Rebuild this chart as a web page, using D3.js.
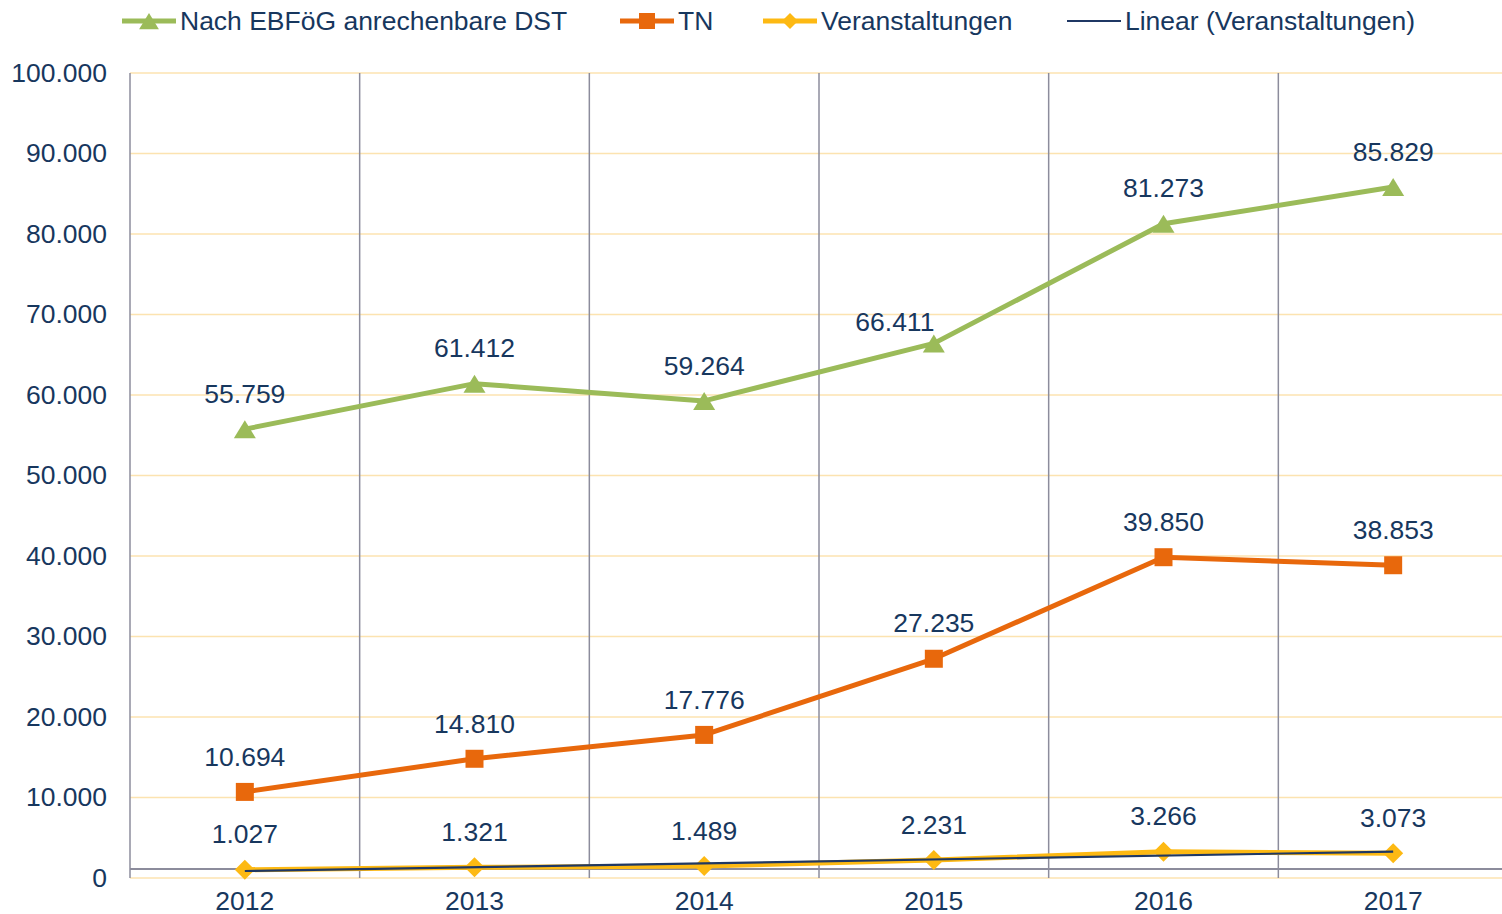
<!DOCTYPE html>
<html><head><meta charset="utf-8">
<script src="https://cdn.jsdelivr.net/npm/d3@7"></script>
<style>
html,body{margin:0;padding:0;background:#fff;}
svg{display:block;font-family:"Liberation Sans",Arial,sans-serif;}
</style></head>
<body>
<svg id="chart" width="1502" height="914"></svg>
<script>
const years = ["2012","2013","2014","2015","2016","2017"];
const dst = [55759, 61412, 59264, 66411, 81273, 85829];
const tn = [10694, 14810, 17776, 27235, 39850, 38853];
const veranst = [1027, 1321, 1489, 2231, 3266, 3073];
const yTicks = [0,10000,20000,30000,40000,50000,60000,70000,80000,90000,100000];
const legendLabels = ["Nach EBFöG anrechenbare DST","TN","Veranstaltungen","Linear (Veranstaltungen)"];

const navy = "#17375E";
const green = "#9BBB59", orange = "#E8680C", yellow = "#FDB913", trendColor = "#1F3864";
const fmt = v => d3.format(",")(v).replace(/,/g, ".");
const FS = 25, SX = 1.06;

const svg = d3.select("#chart");
const m = {left:130, right:-6, top:73, bottom:36};
const W = 1502, H = 914;
const x = d3.scaleBand().domain(years).range([m.left, W - m.right]).padding(0);
const y = d3.scaleLinear().domain([0,100000]).range([H - m.bottom, m.top]);
const cx = d => x(d) + x.bandwidth()/2;

function txt(g, px, py, s, anchor) {
  return g.append("text")
    .attr("transform", `translate(${px},${py}) scale(${SX},1)`)
    .attr("text-anchor", anchor).attr("dominant-baseline","central")
    .attr("fill", navy).attr("font-size", FS).text(s);
}

// horizontal gridlines
svg.append("g").selectAll("line").data(yTicks).join("line")
  .attr("x1", m.left).attr("x2", W).attr("y1", d=>y(d)).attr("y2", d=>y(d))
  .attr("stroke", "#FCE3B0").attr("stroke-width", 1.5);

// vertical category lines
svg.append("g").selectAll("line").data(years).join("line")
  .attr("x1", d=>x(d)).attr("x2", d=>x(d)).attr("y1", y(100000)).attr("y2", y(0))
  .attr("stroke", "#8C8C9C").attr("stroke-width", 1.5);

// horizontal axis line
svg.append("line").attr("x1", m.left).attr("x2", W)
  .attr("y1", y(0) - 9).attr("y2", y(0) - 9)
  .attr("stroke", "#8C8C9C").attr("stroke-width", 2);

// y-axis labels (positions from scale)
const yg = svg.append("g");
yTicks.forEach(t => txt(yg, m.left - 23, y(t), fmt(t), "end"));

// x-axis labels
const xg = svg.append("g");
years.forEach(yr => txt(xg, cx(yr), y(0) + 23, yr, "middle"));

const line = d3.line().x((d,i)=>cx(years[i])).y(d=>y(d));

const series = [
  {vals: dst, color: green, marker: "tri"},
  {vals: tn, color: orange, marker: "sq"},
  {vals: veranst, color: yellow, marker: "dia"}
];

function marker(g, type, color, r) {
  let d;
  if (type === "tri") d = `M0,${-r}L${r*1.1},${r*0.8}L${-r*1.1},${r*0.8}Z`;
  else if (type === "sq") d = `M${-r},${-r}H${r}V${r}H${-r}Z`;
  else d = `M0,${-r}L${r},0L0,${r}L${-r},0Z`;
  return g.append("path").attr("d", d).attr("fill", color);
}

series.forEach(s => {
  svg.append("path").datum(s.vals).attr("d", line).attr("fill","none")
    .attr("stroke", s.color).attr("stroke-width", 5).attr("stroke-linejoin","round");
  s.vals.forEach((v,i) => {
    const g = svg.append("g").attr("transform", `translate(${cx(years[i])},${y(v) + (s.marker==="tri"?1:0)})`);
    marker(g, s.marker, s.color, s.marker==="tri"?10:(s.marker==="sq"?9:10));
  });
});

// linear trendline for Veranstaltungen
const xs = veranst.map((d,i)=>i+1);
const mx = d3.mean(xs), my = d3.mean(veranst);
const slope = d3.sum(xs.map((xi,i)=>(xi-mx)*(veranst[i]-my))) / d3.sum(xs.map(xi=>(xi-mx)**2));
const icpt = my - slope*mx;
svg.append("line")
  .attr("x1", cx(years[0])).attr("y1", y(icpt + slope*1))
  .attr("x2", cx(years[5])).attr("y2", y(icpt + slope*6))
  .attr("stroke", trendColor).attr("stroke-width", 2.2);

// data labels
const lg = svg.append("g");
series.forEach(s => {
  s.vals.forEach((v,i) => {
    let dx = 0, dy = -35;
    if (s.marker === "tri" && i === 3) { dx = -39; dy = -21; }
    txt(lg, cx(years[i]) + dx, y(v) + dy, fmt(v), "middle");
  });
});

// legend
const legendX = [122, 620, 763, 1067];
const legendTypes = ["tri","sq","dia","line"];
const legendColors = [green, orange, yellow, trendColor];
legendLabels.forEach((lab,i) => {
  const g = svg.append("g").attr("transform", `translate(${legendX[i]},21)`);
  g.append("line").attr("x1",0).attr("x2",54).attr("y1",0).attr("y2",0)
    .attr("stroke", legendColors[i]).attr("stroke-width", legendTypes[i]==="line"?2:5);
  if (legendTypes[i] !== "line") {
    const mg = g.append("g").attr("transform", `translate(27,${legendTypes[i]==="tri"?1:0})`);
    marker(mg, legendTypes[i], legendColors[i], legendTypes[i]==="tri"?9:(legendTypes[i]==="sq"?8:8));
  }
  txt(g, 58, 0, lab, "start");
});
</script>
</body></html>
